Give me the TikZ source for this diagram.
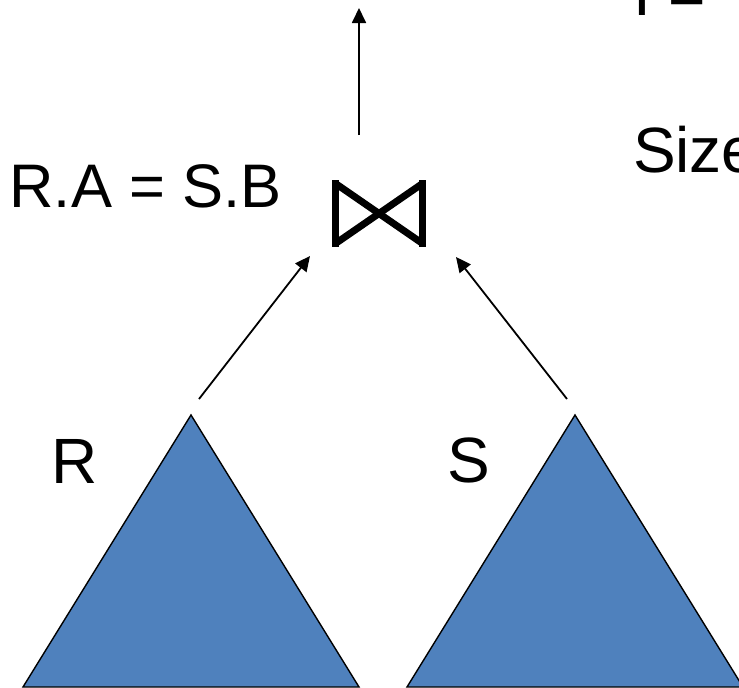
\documentclass[tikz,border=0pt]{standalone}
\usepackage{fontspec}
\setmainfont{Liberation Sans}
\usetikzlibrary{arrows.meta}
\definecolor{triblue}{HTML}{4F81BD}
\begin{document}
\begin{tikzpicture}[x=1pt,y=-1pt,
  lbl/.style={inner sep=0pt, outer sep=0pt, anchor=base west, font=\fontsize{64}{76}\selectfont},
  lblsmall/.style={lbl, font=\fontsize{61.5}{74}\selectfont},
  tree/.style={fill=triblue, draw=black, line width=1.4pt, line join=miter},
  flow/.style={line width=1.8pt, -{Triangle[length=15pt,width=14pt]}},
  tiebar/.style={fill=black},
  tiediag/.style={line width=7pt, line cap=butt}]
\useasboundingbox (0,0) rectangle (739,688);
\clip (0,0) rectangle (739,688);

% relations
\coordinate (Rapex) at (191,415);
\coordinate (RbaseL) at (23,687);
\coordinate (RbaseR) at (359,687);
\coordinate (Sapex) at (575,415);
\coordinate (SbaseL) at (407,687);
\coordinate (SbaseR) at (743,687);
\draw[tree] (Rapex) -- (RbaseR) -- (RbaseL) -- cycle;
\draw[tree] (Sapex) -- (SbaseR) -- (SbaseL) -- cycle;

\node[lbl] (Rlabel) at (51,483) {R};
\node[lbl] (Slabel) at (447,482) {S};

% join symbol
\coordinate (join) at (379,213.5);
\fill[tiebar] (332,180) rectangle (339,247);
\fill[tiebar] (419,180) rectangle (426,247);
\draw[tiediag] (335.5,183.5) -- (422.5,243.5);
\draw[tiediag] (335.5,243.5) -- (422.5,183.5);
\node[lblsmall] (cond) at (9.5,207) {R.A = S.B};

% connectors
\coordinate (Rout) at (199,399);
\coordinate (joinInL) at (310,256);
\coordinate (Sout) at (567,399);
\coordinate (joinInR) at (456,257);
\coordinate (joinOut) at (359,135);
\coordinate (result) at (359,8);
\draw[flow] (Rout) -- (joinInL);
\draw[flow] (Sout) -- (joinInR);
\draw[flow] (joinOut) -- (result);

% right-hand text (cut off by the frame, as in the reference)
\node[lbl] (topline) at (633,15.5) {I =};
\node[lbl] (sizeline) at (633,172) {Size};
\end{tikzpicture}
\end{document}
